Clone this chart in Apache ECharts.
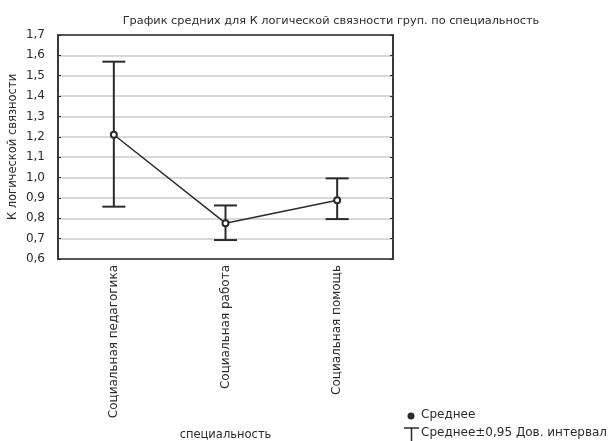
<!DOCTYPE html>
<html><head><meta charset="utf-8">
<script src="https://cdn.jsdelivr.net/npm/echarts@6/dist/echarts.min.js"></script>
<style>html,body{margin:0;padding:0;background:#fff}#c{width:614px;height:441px}</style>
</head><body><div id="c"></div>
<script>
const categories = ['Социальная педагогика', 'Социальная работа', 'Социальная помощь'];
const means = [1.21, 0.776, 0.888];
const ciLow = [0.857, 0.693, 0.796];
const ciHigh = [1.569, 0.863, 0.996];
const yTicks = { min: 0.6, max: 1.7, interval: 0.1 };
const legendLabels = ['Среднее', 'Среднее±0,95 Дов. интервал'];

const chart = echarts.init(document.getElementById('c'));
const font = 'DejaVu Sans, Verdana, sans-serif';
const ink = '#2b2b2b';
const errData = categories.map((c, i) => [i, ciLow[i], ciHigh[i]]);

chart.setOption({
  animation: false,
  textStyle: { fontFamily: font },
  title: {
    text: 'График средних для К логической связности груп. по специальность',
    left: 326, top: 11, textAlign: 'center',
    textStyle: { fontSize: 11.3, fontWeight: 'normal', color: ink, fontFamily: font }
  },
  grid: { left: 58, right: 221, top: 35, bottom: 182, show: true, borderColor: ink, borderWidth: 1.5,
          containLabel: false, outerBoundsMode: 'none' },
  xAxis: [{
    type: 'category', data: categories, boundaryGap: true,
    name: 'специальность', nameLocation: 'middle', nameGap: 170,
    nameTextStyle: { fontSize: 11.5, color: ink, fontFamily: font },
    axisLine: { lineStyle: { color: ink, width: 1.5 } },
    axisTick: { alignWithLabel: true, inside: true, length: 3, lineStyle: { color: ink } },
    axisLabel: { rotate: 90, fontSize: 12, color: ink, margin: 6, fontFamily: font }
  }, {
    type: 'category', data: categories, position: 'top', boundaryGap: true,
    axisLine: { lineStyle: { color: ink, width: 1.5 } },
    axisTick: { alignWithLabel: true, inside: true, length: 3, lineStyle: { color: ink } },
    axisLabel: { show: false }
  }],
  yAxis: [{
    type: 'value', min: yTicks.min, max: yTicks.max, interval: yTicks.interval,
    name: 'К логической связности', nameLocation: 'middle', nameGap: 39, nameMoveOverlap: false,
    nameTextStyle: { fontSize: 11.5, color: ink, fontFamily: font },
    axisLine: { show: true, lineStyle: { color: ink, width: 1.5 } },
    axisTick: { show: true, inside: true, length: 3, lineStyle: { color: ink } },
    axisLabel: { fontSize: 12, color: ink, margin: 13, fontFamily: font,
      formatter: v => v.toFixed(1).replace('.', ',') },
    splitLine: { show: true, lineStyle: { color: '#d9d9d9', width: 2 } }
  }, {
    type: 'value', min: yTicks.min, max: yTicks.max, interval: yTicks.interval, position: 'right',
    axisLine: { show: true, lineStyle: { color: ink, width: 1.5 } },
    axisTick: { show: true, inside: true, length: 3, lineStyle: { color: ink } },
    axisLabel: { show: false }, splitLine: { show: false }
  }],
  graphic: [
    { type: 'circle', shape: { cx: 411, cy: 416, r: 3.5 }, style: { fill: ink } },
    { type: 'text', left: 421, top: 409, style: { text: legendLabels[0], fontSize: 12, fill: ink, fontFamily: font } },
    { type: 'polyline', shape: { points: [[404, 428], [419, 428]] }, style: { stroke: ink, lineWidth: 1.5 } },
    { type: 'polyline', shape: { points: [[411.5, 428], [411.5, 441]] }, style: { stroke: ink, lineWidth: 1.5 } },
    { type: 'text', left: 421, top: 427, style: { text: legendLabels[1], fontSize: 12, fill: ink, fontFamily: font } }
  ],
  series: [{
    name: legendLabels[1], type: 'custom', data: errData,
    itemStyle: { color: ink },
    renderItem: function (params, api) {
      const lo = api.coord([api.value(0), api.value(1)]);
      const hi = api.coord([api.value(0), api.value(2)]);
      const w = 11.5;
      const st = { stroke: ink, lineWidth: 2, fill: null };
      return { type: 'group', children: [
        { type: 'line', shape: { x1: lo[0], y1: lo[1], x2: hi[0], y2: hi[1] }, style: st },
        { type: 'line', shape: { x1: lo[0] - w, y1: lo[1], x2: lo[0] + w, y2: lo[1] }, style: st },
        { type: 'line', shape: { x1: hi[0] - w, y1: hi[1], x2: hi[0] + w, y2: hi[1] }, style: st }
      ]};
    },
    z: 2
  }, {
    name: legendLabels[0], type: 'line', data: means,
    symbol: 'emptyCircle', symbolSize: 6,
    lineStyle: { color: ink, width: 1.5 },
    itemStyle: { color: ink, borderWidth: 1.5 },
    z: 3
  }]
});
</script></body></html>
